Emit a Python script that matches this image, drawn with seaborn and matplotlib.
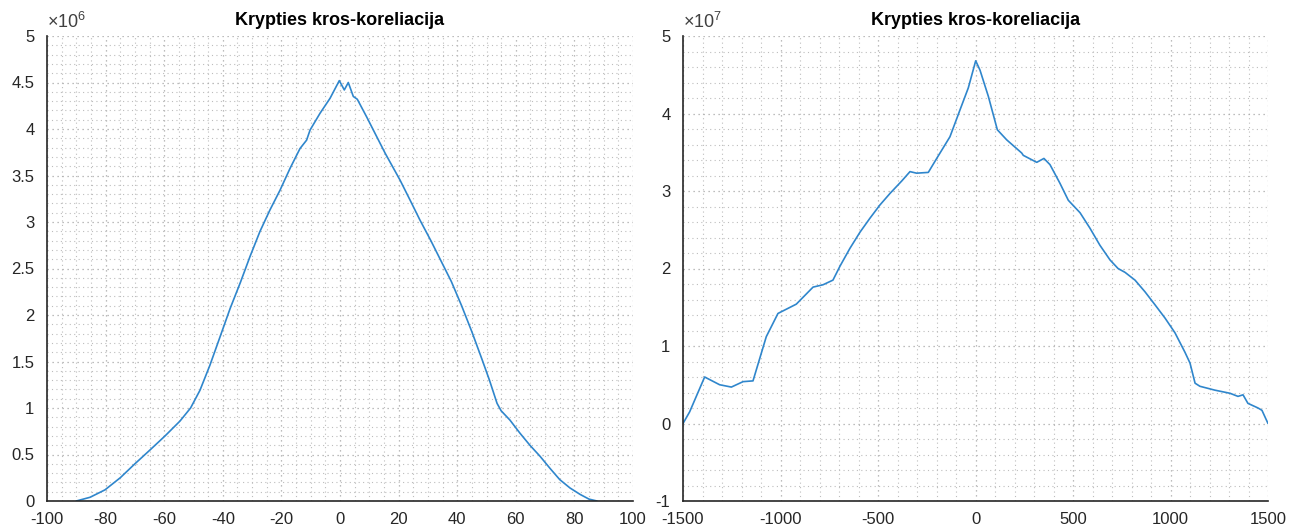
import numpy as np
import pandas as pd
import matplotlib
matplotlib.use("Agg")
import matplotlib.pyplot as plt
from matplotlib.ticker import MultipleLocator, AutoMinorLocator, FuncFormatter
import seaborn as sns

# Cross-correlation of the first signal pair (lags in samples)
lag_a = [-90, -85.3, -80.2, -75, -70, -64.8, -59.7, -54.6, -51, -47.8, -44.4,
         -41, -37.5, -34, -30.7, -27.3, -23.9, -20.5, -17, -13.65, -11.4,
         -10.2, -6.8, -3.4, -0.24, 1.47, 2.83, 4.54, 5.9, 9.1, 15.4, 20.5,
         24, 27.3, 31, 34.5, 38, 41.5, 45, 48.5, 51, 53.6, 55, 58, 61.4,
         64.8, 68.3, 71.7, 75, 78.5, 82, 85, 87.7]
corr_a = [0.0, 0.04, 0.12, 0.25, 0.40, 0.55, 0.70, 0.86, 1.00, 1.19, 1.46,
          1.76, 2.07, 2.35, 2.63, 2.90, 3.13, 3.34, 3.58, 3.79, 3.88,
          3.99, 4.17, 4.33, 4.52, 4.42, 4.50, 4.35, 4.32, 4.13, 3.74, 3.45,
          3.23, 3.02, 2.80, 2.58, 2.36, 2.10, 1.82, 1.52, 1.30, 1.05, 0.97,
          0.87, 0.73, 0.60, 0.48, 0.35, 0.23, 0.14, 0.07, 0.02, 0.0]

# Cross-correlation of the second signal pair
lag_b = [-1500, -1466, -1389, -1312, -1252, -1192, -1141, -1073, -1013, -919,
         -833, -782, -731, -695, -644, -592, -541, -490, -438, -378, -336,
         -302, -242, -199, -131, -79, -37, 1, 23, 66, 112, 160, 237, 245,
         314, 351, 382, 433, 476, 536, 587, 638, 690, 731, 767, 818, 869,
         921, 972, 1023, 1074, 1100, 1126, 1151, 1228, 1305, 1346, 1372,
         1397, 1449, 1469, 1500]
corr_b = [0.0, 0.15, 0.60, 0.50, 0.47, 0.54, 0.55, 1.12, 1.42, 1.54,
          1.76, 1.79, 1.85, 2.03, 2.26, 2.47, 2.65, 2.82, 2.97, 3.13, 3.25,
          3.23, 3.24, 3.42, 3.70, 4.05, 4.33, 4.68, 4.56, 4.22, 3.79, 3.66,
          3.49, 3.46, 3.37, 3.42, 3.34, 3.10, 2.88, 2.72, 2.52, 2.30, 2.11,
          2.00, 1.95, 1.85, 1.70, 1.53, 1.36, 1.17, 0.92, 0.78, 0.52, 0.48,
          0.43, 0.39, 0.35, 0.37, 0.26, 0.20, 0.17, 0.0]

df_a = pd.DataFrame({"lag": lag_a, "r": np.array(corr_a) * 1e6})
df_b = pd.DataFrame({"lag": lag_b, "r": np.array(corr_b) * 1e7})

sns.set_style("white")
plt.rcParams["font.family"] = ["Liberation Sans", "DejaVu Sans"]
plt.rcParams["mathtext.fontset"] = "custom"
plt.rcParams["mathtext.rm"] = "Liberation Sans"

W, H = 1309, 530
fig = plt.figure(figsize=(W / 100, H / 100), dpi=100)
ax1 = fig.add_axes([47 / W, 29 / H, 586 / W, 465 / H])
ax2 = fig.add_axes([683 / W, 29 / H, 585 / W, 465 / H])

line_color = "#2f86cc"
axis_color = "#262626"
title = "Krypties kros-koreliacija"

panels = [
    (ax1, df_a, (-100, 100), 20, 4, (0, 5e6), 0.5e6, 5, 1e6, 6),
    (ax2, df_b, (-1500, 1500), 500, 5, (-1e7, 5e7), 1e7, 5, 1e7, 7),
]

for ax, df, xl, xmaj, xmin_n, yl, ymaj, ymin_n, scale, expo in panels:
    sns.lineplot(data=df, x="lag", y="r", ax=ax, color=line_color,
                 linewidth=1.2, estimator=None, sort=False)
    ax.set_xlim(*xl)
    ax.set_ylim(*yl)
    ax.xaxis.set_major_locator(MultipleLocator(xmaj))
    ax.xaxis.set_minor_locator(AutoMinorLocator(xmin_n))
    ax.yaxis.set_major_locator(MultipleLocator(ymaj))
    ax.yaxis.set_minor_locator(AutoMinorLocator(ymin_n))
    ax.yaxis.set_major_formatter(FuncFormatter(lambda v, p, s=scale: f"{v / s:g}"))
    ax.xaxis.set_major_formatter(FuncFormatter(lambda v, p: f"{v:g}"))
    ax.grid(which="major", linestyle=(0, (1, 3)), color="#a8a8a8", linewidth=0.9)
    ax.grid(which="minor", linestyle=(0, (1, 3)), color="#bdbdbd", linewidth=0.8)
    ax.set_axisbelow(True)
    for side in ("top", "right"):
        ax.spines[side].set_visible(False)
    for side in ("left", "bottom"):
        ax.spines[side].set_color(axis_color)
        ax.spines[side].set_linewidth(1.2)
    ax.tick_params(which="major", direction="in", length=5, width=1,
                   color=axis_color, labelcolor=axis_color, labelsize=12)
    ax.tick_params(axis="x", which="major", pad=8)
    ax.tick_params(axis="y", which="major", pad=9)
    ax.tick_params(which="minor", length=0)
    ax.set_xlabel("")
    ax.set_ylabel("")
    ax.set_title(title, fontsize=13, fontweight="bold", color="black", pad=8)
    ax.text(0.0, 1.008, rf"$\times 10^{{{expo}}}$", transform=ax.transAxes,
            fontsize=13, color="#404040", ha="left", va="bottom")

fig.savefig("out.png", dpi=100)
